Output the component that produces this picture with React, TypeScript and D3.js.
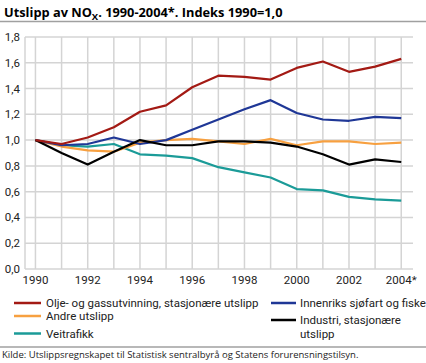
import React from "react";
import * as d3 from "d3";

// Years on the x axis (2004 is preliminary)
const years = [1990, 1991, 1992, 1993, 1994, 1995, 1996, 1997, 1998, 1999, 2000, 2001, 2002, 2003, 2004];
const yearLabels = ["1990", "1992", "1994", "1996", "1998", "2000", "2002", "2004*"];
const yTicks = [0, 0.2, 0.4, 0.6, 0.8, 1.0, 1.2, 1.4, 1.6, 1.8];

// Index values, 1990 = 1.0
const oljeGass = [1.0, 0.97, 1.02, 1.1, 1.22, 1.27, 1.41, 1.5, 1.49, 1.47, 1.56, 1.61, 1.53, 1.57, 1.63];
const innenriks = [1.0, 0.96, 0.97, 1.02, 0.97, 1.0, 1.08, 1.16, 1.24, 1.31, 1.21, 1.16, 1.15, 1.18, 1.17];
const andre = [1.0, 0.95, 0.92, 0.91, 0.98, 1.0, 1.01, 0.99, 0.97, 1.01, 0.96, 0.99, 0.99, 0.97, 0.98];
const industri = [1.0, 0.9, 0.81, 0.91, 1.0, 0.96, 0.96, 0.99, 0.99, 0.98, 0.95, 0.89, 0.81, 0.85, 0.83];
const veitrafikk = [1.0, 0.96, 0.95, 0.97, 0.89, 0.88, 0.86, 0.79, 0.75, 0.71, 0.62, 0.61, 0.56, 0.54, 0.53];

const series = [
  { name: "Olje- og gassutvinning, stasjonære utslipp", values: oljeGass, color: "#a31a14" },
  { name: "Innenriks sjøfart og fiske", values: innenriks, color: "#1f3796" },
  { name: "Andre utslipp", values: andre, color: "#f7a040" },
  { name: "Industri, stasjonære utslipp", values: industri, color: "#000000" },
  { name: "Veitrafikk", values: veitrafikk, color: "#1b9b98" },
];

const W = 426;
const H = 363;
const font = "Roboto, sans-serif";
const smallFont = "'Open Sans', sans-serif";
const textColor = "#222";

export default function App() {
  const left = 25;
  const right = 413;
  const top = 37;
  const bottom = 269;

  const x = d3.scaleLinear().domain([1989.6, 2004.45]).range([left, right]);
  const y = d3.scaleLinear().domain([0, 1.8]).range([bottom, top]);

  const line = d3
    .line<number>()
    .x((_, i) => x(years[i]))
    .y((d) => y(d));

  const fmt = (v: number) => d3.format(".1f")(v).replace(".", ",");

  // legend placement
  const legendLeft = [
    { s: series[0], ly: 303, lines: [series[0].name] },
    { s: series[2], ly: 316, lines: [series[2].name] },
    { s: series[4], ly: 333.5, lines: [series[4].name] },
  ];
  const legendRight = [
    { s: series[1], ly: 303, lines: [series[1].name] },
    { s: series[3], ly: 320, lines: ["Industri, stasjonære", "utslipp"] },
  ];

  return (
    <svg width={W} height={H} style={{ position: "absolute", left: 0, top: 0, background: "#fff" }}>
      {/* title */}
      <text x={4} y={17} fontFamily={smallFont} fontSize={12.8} fontWeight="bold" fill="#000">
        Utslipp av NO
        <tspan fontSize={9.5} dy={3}>X</tspan>
        <tspan dy={-3}>. 1990-2004*. Indeks 1990=1,0</tspan>
      </text>
      <line x1={0} x2={W} y1={21.5} y2={21.5} stroke="#a0a0a0" strokeWidth={1.5} />

      {/* grid */}
      <g stroke="#d4d4d4" strokeWidth={1.5}>
        {yTicks.map((t) => (
          <line key={"h" + t} x1={left} x2={right} y1={y(t)} y2={y(t)} />
        ))}
        {years.map((yr) => (
          <line key={"v" + yr} x1={x(yr)} x2={x(yr)} y1={top} y2={bottom} />
        ))}
        <line x1={left} x2={left} y1={top} y2={bottom} />
      </g>

      {/* y axis labels */}
      {yTicks.map((t) => (
        <text key={"yl" + t} x={20} y={y(t) + 4} textAnchor="end" fontFamily={font} fontSize={11.5} fill={textColor}>
          {fmt(t)}
        </text>
      ))}

      {/* x axis labels */}
      {yearLabels.map((lab) => (
        <text
          key={lab}
          x={x(parseInt(lab, 10))}
          y={284}
          textAnchor="middle"
          fontFamily={font}
          fontSize={11.5}
          fill={textColor}
        >
          {lab}
        </text>
      ))}

      {/* lines */}
      {[series[4], series[2], series[1], series[3], series[0]].map((s) => (
        <path key={s.name} d={line(s.values) || ""} fill="none" stroke={s.color} strokeWidth={2.2} strokeLinejoin="round" />
      ))}

      {/* legend */}
      {legendLeft.map(({ s, ly, lines }) => (
        <g key={s.name}>
          <line x1={14} x2={41} y1={ly} y2={ly} stroke={s.color} strokeWidth={2.5} />
          {lines.map((l, i) => (
            <text key={l} x={46} y={ly + 4} fontFamily={font} fontSize={11.5} fill={textColor}>
              {l}
            </text>
          ))}
        </g>
      ))}
      {legendRight.map(({ s, ly, lines }) => (
        <g key={s.name}>
          <line x1={271} x2={296} y1={ly} y2={ly} stroke={s.color} strokeWidth={2.5} />
          {lines.map((l, i) => (
            <text key={l} x={300} y={ly + 4 + i * 13.5} fontFamily={font} fontSize={11.5} fill={textColor}>
              {l}
            </text>
          ))}
        </g>
      ))}

      {/* source */}
      <line x1={0} x2={W} y1={347} y2={347} stroke="#a0a0a0" strokeWidth={1.5} />
      <text x={2} y={358} fontFamily={smallFont} fontSize={9.5} fill={textColor}>
        Kilde: Utslippsregnskapet til Statistisk sentralbyrå og Statens forurensningstilsyn.
      </text>
    </svg>
  );
}
